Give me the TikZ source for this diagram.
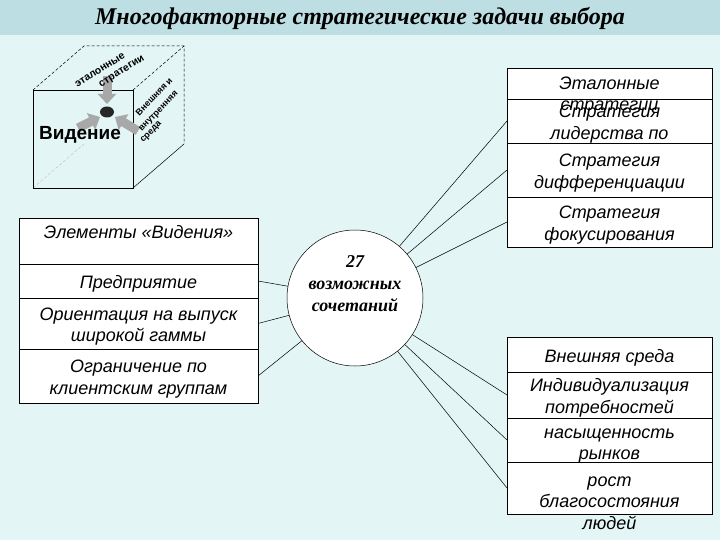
\documentclass[tikz,border=0pt]{standalone}
\usepackage{fontspec}
\setmainfont{Liberation Serif}
\setsansfont{Liberation Sans}
\usetikzlibrary{arrows.meta, positioning}

\definecolor{bgcol}{HTML}{E3F5F4}
\definecolor{barcol}{HTML}{BDDFE3}
\definecolor{arrcol}{HTML}{A8A8A8}

\tikzset{
	cell/.style = {draw, fill=white, line width=0.8pt, minimum width=205pt, inner sep=0pt, outer sep=0pt},
	celltext/.style = {font=\sffamily\itshape\fontsize{18}{21.5}\selectfont, align=center, inner sep=0pt, yshift=-3pt},
	topface/.style = {font=\sffamily\bfseries\fontsize{10.5}{11}\selectfont, inner sep=0pt, rotate=32},
	sideface/.style = {font=\sffamily\bfseries\fontsize{9}{10}\selectfont, inner sep=0pt, rotate=46},
	link/.style = {line width=0.5pt},
	cubeedge/.style = {line width=0.5pt, densely dashed},
	bigarrow/.style = {arrcol, line width=9pt, -{Triangle[width=18pt, length=10pt]}},
}

\begin{document}
\begin{tikzpicture}[x=1pt, y=-1pt]
			\useasboundingbox (0,0) rectangle (720,540);
			\fill [bgcol] (0,0) rectangle (720,540);
			\fill [barcol] (0,0) rectangle (720,35);
			\node [font=\bfseries\itshape\fontsize{24}{28}\selectfont] (title) at (360,18) {Многофакторные стратегические задачи выбора};

			\def\dx{51};
			\def\dy{-44};

			% cube
			\begin{scope}
				\draw [gray!50, densely dashed, line width=0.4pt] (33,188) -- ++(\dx,\dy);
				\draw [line width=0.6pt] (33,90) rectangle (133,188);
				\draw [cubeedge] (33,90) -- ++(\dx,\dy) -- ++(100,0) -- ++(0,98);
				\draw [cubeedge] (133,90) -- ++(\dx,\dy);
				\draw [line width=0.5pt] (133,188) -- ++(\dx,\dy);

				\draw [bigarrow] (107,76) -- (107,104);
				\draw [bigarrow] (78,128) -- (100,117);
				\draw [bigarrow] (138,131) -- (115,117);
				\fill [black!85] (107,112) ellipse [x radius=7pt, y radius=5.5pt];

				\node [font=\sffamily\bfseries\fontsize{19}{22}\selectfont] (vision) at (80,135) {Видение};

				\node [topface] (etalA) at (100,70) {эталонные};
				\node [topface] (etalB) at (122,72) {стратегии};

				\node [sideface] (envA) at (154,96.5) {Внешняя и};
				\node [sideface] (envB) at (159,112) {внутренняя};
				\node [sideface] (envC) at (151.5,132.5) {среда};
			\end{scope}

			% left column
			\node [cell, minimum width=239pt, minimum height=46pt] (vhead) at (138.5,241) {};
			\node [cell, minimum width=239pt, minimum height=34pt, below=0pt of vhead] (vfirm) {};
			\node [cell, minimum width=239pt, minimum height=51pt, below=0pt of vfirm] (vwide) {};
			\node [cell, minimum width=239pt, minimum height=54pt, below=0pt of vwide] (vclient) {};

			% top right column
			\node [cell, minimum height=31pt] (setal) at (609.5,83.5) {};
			\node [cell, minimum height=44pt, below=0pt of setal] (slead) {};
			\node [cell, minimum height=54pt, below=0pt of slead] (sdiff) {};
			\node [cell, minimum height=50pt, below=0pt of sdiff] (sfocus) {};

			% bottom right column
			\node [cell, minimum height=35pt] (eouter) at (609.5,354.5) {};
			\node [cell, minimum height=46pt, below=0pt of eouter] (eindiv) {};
			\node [cell, minimum height=44pt, below=0pt of eindiv] (esat) {};
			\node [cell, minimum height=52pt, below=0pt of esat] (ewealth) {};

			\node [circle, draw, fill=white, line width=0.5pt, minimum size=136pt, inner sep=0pt, outer sep=0pt] (combo) at (355,298) {};

			\foreach \c in {vfirm, vwide, vclient}
				\draw [link] (combo) -- (\c.east);
			\foreach \c in {slead, sdiff, sfocus, eindiv, esat, ewealth}
				\draw [link] (combo) -- (\c.west);

			\node [celltext, yshift=12pt] (vheadT) at (vhead) {Элементы «Видения»};
			\node [celltext] (vfirmT) at (vfirm) {Предприятие};
			\node [celltext] (vwideT) at (vwide) {Ориентация на выпуск\\широкой гаммы};
			\node [celltext] (vclientT) at (vclient) {Ограничение по\\клиентским группам};

			\node [celltext, yshift=-9pt] (setalT) at (setal) {Эталонные\\стратегии};
			\node [celltext] (sleadT) at (slead) {Стратегия\\лидерства по};
			\node [celltext] (sdiffT) at (sdiff) {Стратегия\\дифференциации};
			\node [celltext] (sfocusT) at (sfocus) {Стратегия\\фокусирования};

			\node [celltext] (eouterT) at (eouter) {Внешняя среда};
			\node [celltext] (eindivT) at (eindiv) {Индивидуализация\\потребностей};
			\node [celltext, yshift=-3pt] (esatT) at (esat) {насыщенность\\рынков};
			\node [celltext, yshift=-12pt] (ewealthT) at (ewealth) {рост\\благосостояния\\людей};

			\node [font=\bfseries\itshape\fontsize{18}{22}\selectfont, align=center, yshift=14pt] (comboT) at (combo) {27\\возможных\\сочетаний};
		\end{tikzpicture}
\end{document}
